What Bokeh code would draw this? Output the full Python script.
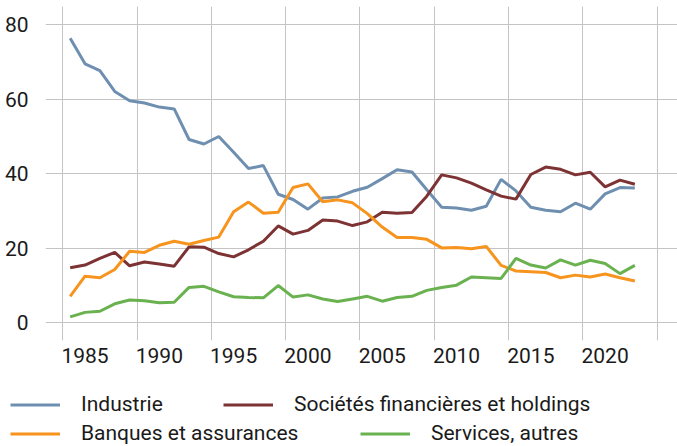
from bokeh.plotting import figure
from bokeh.models import Range1d, FixedTicker, Legend, LegendItem
from bokeh.layouts import column
from bokeh.embed import file_html
from bokeh.resources import INLINE

years = list(range(1984, 2023))

industrie = [76.4, 69.5, 67.7, 62.1, 59.6, 59.0, 57.9, 57.4, 49.2, 48.0, 50.0, 45.8, 41.4,
             42.2, 34.5, 33.1, 30.5, 33.5, 33.8, 35.3, 36.4, 38.7, 41.1, 40.5, 35.7, 31.0,
             30.8, 30.2, 31.3, 38.5, 35.4, 31.0, 30.2, 29.8, 32.1, 30.5, 34.6, 36.3, 36.2]
societes = [14.8, 15.5, 17.3, 18.9, 15.3, 16.3, 15.8, 15.2, 20.4, 20.3, 18.6, 17.7, 19.6,
            21.9, 26.0, 23.8, 24.8, 27.6, 27.3, 26.1, 27.1, 29.7, 29.4, 29.6, 34.0, 39.7,
            38.9, 37.5, 35.7, 34.0, 33.2, 39.8, 41.8, 41.2, 39.7, 40.4, 36.5, 38.3, 37.2]
banques = [7.1, 12.5, 12.1, 14.3, 19.2, 18.9, 20.8, 21.9, 21.1, 22.1, 23.0, 29.8, 32.4,
           29.4, 29.7, 36.3, 37.3, 32.5, 33.0, 32.2, 29.3, 25.7, 22.9, 22.9, 22.4, 20.1,
           20.2, 19.9, 20.5, 15.4, 13.9, 13.7, 13.5, 12.1, 12.8, 12.3, 13.1, 12.1, 11.2]
services = [1.6, 2.8, 3.1, 5.1, 6.1, 5.9, 5.4, 5.5, 9.5, 9.8, 8.3, 7.0, 6.8,
            6.7, 10.0, 6.9, 7.5, 6.4, 5.7, 6.4, 7.1, 5.8, 6.8, 7.1, 8.7, 9.5,
            10.1, 12.3, 12.1, 11.9, 17.3, 15.5, 14.7, 16.9, 15.5, 16.8, 15.9, 13.2, 15.4]

labels = ["Industrie", "Sociétés financières et holdings", "Banques et assurances", "Services, autres"]
colors = ["#6f8fb1", "#7d3233", "#f7941d", "#6ab150"]

x_ticks = [1985, 1990, 1995, 2000, 2005, 2010, 2015, 2020]
x_grid = [1983.5, 1988.5, 1993.5, 1998.5, 2003.5, 2008.5, 2013.5, 2018.5, 2023.5]
y_ticks = [0, 20, 40, 60, 80]

FONT = "Roboto"
TXT = "#1a1a1a"

p = figure(width=677, height=370,
           x_range=Range1d(1982.34, 2024.87), y_range=Range1d(-4.75, 84.9),
           output_backend="svg", toolbar_location=None,
           min_border_left=45, min_border_right=0, min_border_top=6, min_border_bottom=30)
p.frame_align = False
p.outline_line_color = None
p.background_fill_color = "white"

p.xaxis.ticker = FixedTicker(ticks=x_ticks)
p.yaxis.ticker = FixedTicker(ticks=y_ticks)
p.xgrid.ticker = FixedTicker(ticks=x_grid)
for ax in (p.xaxis, p.yaxis):
    ax.axis_line_color = None
    ax.major_tick_line_color = None
    ax.minor_tick_line_color = None
    ax.major_label_text_font = FONT
    ax.major_label_text_font_size = "21px"
    ax.major_label_text_color = TXT
p.xaxis.major_label_standoff = 1
p.yaxis.major_label_standoff = 11

p.xgrid.grid_line_color = "#c4c4c4"
p.ygrid.grid_line_color = "#c4c4c4"
p.xgrid.grid_line_width = 1
p.ygrid.grid_line_width = 1

series = [industrie, societes, banques, services]
for vals, col in zip(series, colors):
    p.line(years, vals, line_color=col, line_width=3)

# legend panel (pixel-like ranges; series data lies outside, so only legend glyphs show)
lp = figure(width=677, height=76, x_range=Range1d(0, 677), y_range=Range1d(0, 76),
            output_backend="svg", toolbar_location=None,
            x_axis_type=None, y_axis_type=None,
            min_border_left=0, min_border_right=0, min_border_top=0, min_border_bottom=0)
lp.frame_align = False
lp.grid.visible = False
lp.outline_line_color = None

positions = [(10, 29.5), (223, 29.5), (10, 0.5), (360, 0.5)]
for lab, col, vals, loc in zip(labels, colors, series, positions):
    r = lp.line(years, vals, line_color=col, line_width=3)
    lg = Legend(items=[LegendItem(label=lab, renderers=[r])], location=loc,
                orientation="horizontal", padding=0, margin=0, spacing=0,
                glyph_width=50, glyph_height=25, label_height=25, label_standoff=21,
                label_text_font=FONT, label_text_font_size="21px",
                label_text_color=TXT,
                background_fill_alpha=0, border_line_alpha=0)
    lp.add_layout(lg, "center")

layout = column(p, lp, spacing=0)
open("out.html", "w").write(file_html(layout, INLINE))
